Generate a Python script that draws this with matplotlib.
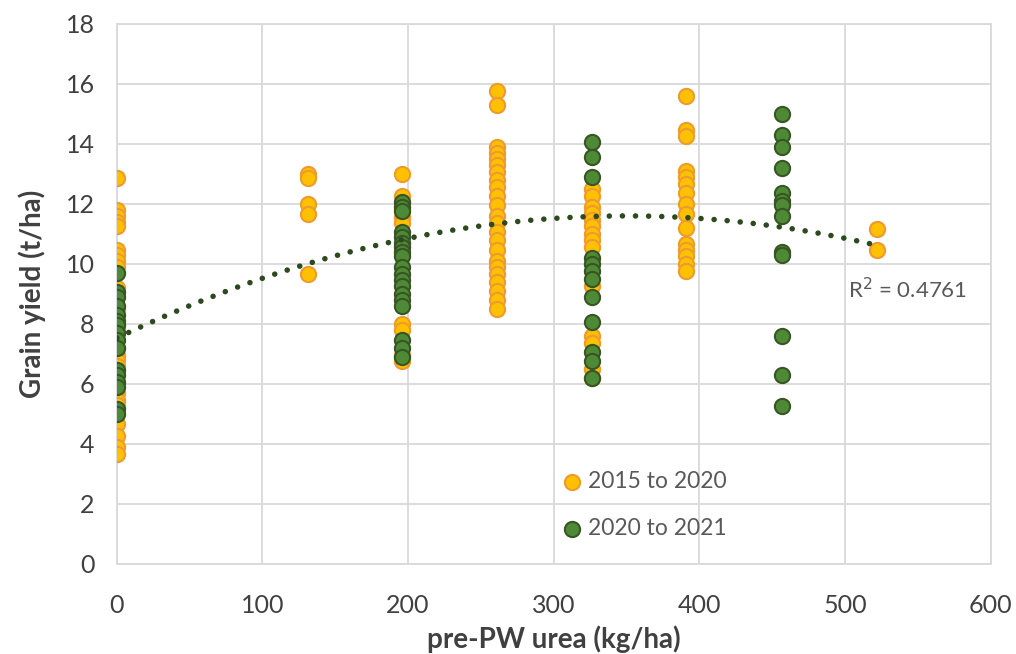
import numpy as np
import matplotlib
matplotlib.use('Agg')
import matplotlib.pyplot as plt

plt.rcParams['font.family'] = ['Lato', 'DejaVu Sans']

# grain yield (t/ha) by pre-PW urea rate (kg/ha)
rates_1520 = [0, 131, 196, 261, 326, 391, 522]
yields_1520 = [
    [12.85, 11.8, 11.6, 11.4, 11.25, 10.45, 10.3, 10.1, 9.9, 9.2, 8.5, 7.8, 7.2,
     6.95, 6.8, 6.6, 5.7, 5.45, 5.3, 4.65, 4.25, 3.9, 3.65],
    [13.0, 12.85, 12.0, 11.65, 9.65],
    [13.0, 12.25, 11.55, 11.35, 8.0, 7.8, 6.95, 6.75],
    [15.75, 15.3, 13.9, 13.7, 13.5, 13.3, 13.05, 12.8, 12.55, 12.25, 11.95, 11.6,
     11.35, 11.05, 10.8, 10.45, 10.1, 9.9, 9.65, 9.4, 9.1, 8.8, 8.5],
    [12.5, 12.25, 11.9, 11.7, 11.45, 11.25, 11.0, 10.8, 10.55, 9.25, 7.6, 7.35, 6.5, 6.2],
    [15.6, 14.45, 14.25, 13.1, 12.9, 12.65, 12.35, 12.0, 11.65, 11.2, 10.65, 10.45,
     10.25, 10.0, 9.75],
    [11.15, 10.45],
]
rates_2021 = [0, 196, 326, 457]
yields_2021 = [
    [9.7, 9.05, 8.9, 8.6, 8.3, 8.1, 7.95, 7.7, 7.45, 7.2, 6.45, 6.3, 6.05, 5.9, 5.15, 5.0],
    [12.05, 11.9, 11.75, 11.05, 10.9, 10.7, 10.55, 10.4, 10.25, 9.9, 9.65, 9.45, 9.25,
     9.0, 8.8, 8.6, 7.45, 7.2, 6.9],
    [14.05, 13.55, 12.9, 10.2, 10.0, 9.75, 9.5, 8.9, 8.05, 7.05, 6.75, 6.2],
    [15.0, 14.3, 13.9, 13.2, 12.35, 12.1, 11.95, 11.6, 10.4, 10.3, 7.6, 6.3, 5.25],
]
# Excel polynomial (order 2) trendline, coefficients
trend_coef = [-3.32e-5, 0.02325, 7.52]
r2_label = 'R$^2$ = 0.4761'

x1 = np.concatenate([[r] * len(v) for r, v in zip(rates_1520, yields_1520)])
y1 = np.concatenate(yields_1520)
x2 = np.concatenate([[r] * len(v) for r, v in zip(rates_2021, yields_2021)])
y2 = np.concatenate(yields_2021)

fig = plt.figure(figsize=(10.16, 6.54), dpi=100)
ax = fig.add_axes([0.115, 0.138, 0.860, 0.826])

grid_col = '#d9d9d9'
ax.set_xlim(0, 600)
ax.set_ylim(0, 18)
ax.set_xticks(range(0, 601, 100))
ax.set_yticks(range(0, 19, 2))
ax.grid(True, color=grid_col, lw=1.3)
ax.set_axisbelow(True)
for s in ax.spines.values():
    s.set_color(grid_col)
    s.set_linewidth(1.3)
ax.tick_params(length=0, labelsize=18, labelcolor='#404040')
ax.tick_params(axis='x', pad=22)
ax.tick_params(axis='y', pad=16)

ax.scatter(x1, y1, s=120, color='#ffc000', edgecolor='#ed9a2e', lw=1.5,
           zorder=3, label='2015 to 2020')
ax.scatter(x2, y2, s=120, color='#4e8a35', edgecolor='#375623', lw=1.5,
           zorder=4, label='2020 to 2021')

xs = np.linspace(0, max(rates_1520), 200)
ax.plot(xs, np.polyval(trend_coef, xs), color='#2d4a1e', lw=4,
        linestyle=(0, (0.01, 2.35)), dash_capstyle='round', zorder=5)

ax.text(502, 9.15, r2_label, fontsize=16, color='#595959', va='center')

leg = ax.legend(loc='lower left', bbox_to_anchor=(0.5, 0.029), frameon=False,
                fontsize=16.5, handlelength=0.8, handletextpad=0.3,
                labelspacing=1.13, markerscale=1.0, borderaxespad=0)
for t in leg.get_texts():
    t.set_color('#595959')

ax.set_xlabel('pre-PW urea (kg/ha)', fontsize=20, fontweight='bold',
              color='#404040', labelpad=6)
ax.set_ylabel('Grain yield (t/ha)', fontsize=20, fontweight='bold',
              color='#404040', labelpad=14)

fig.savefig('out.png', dpi=100)
